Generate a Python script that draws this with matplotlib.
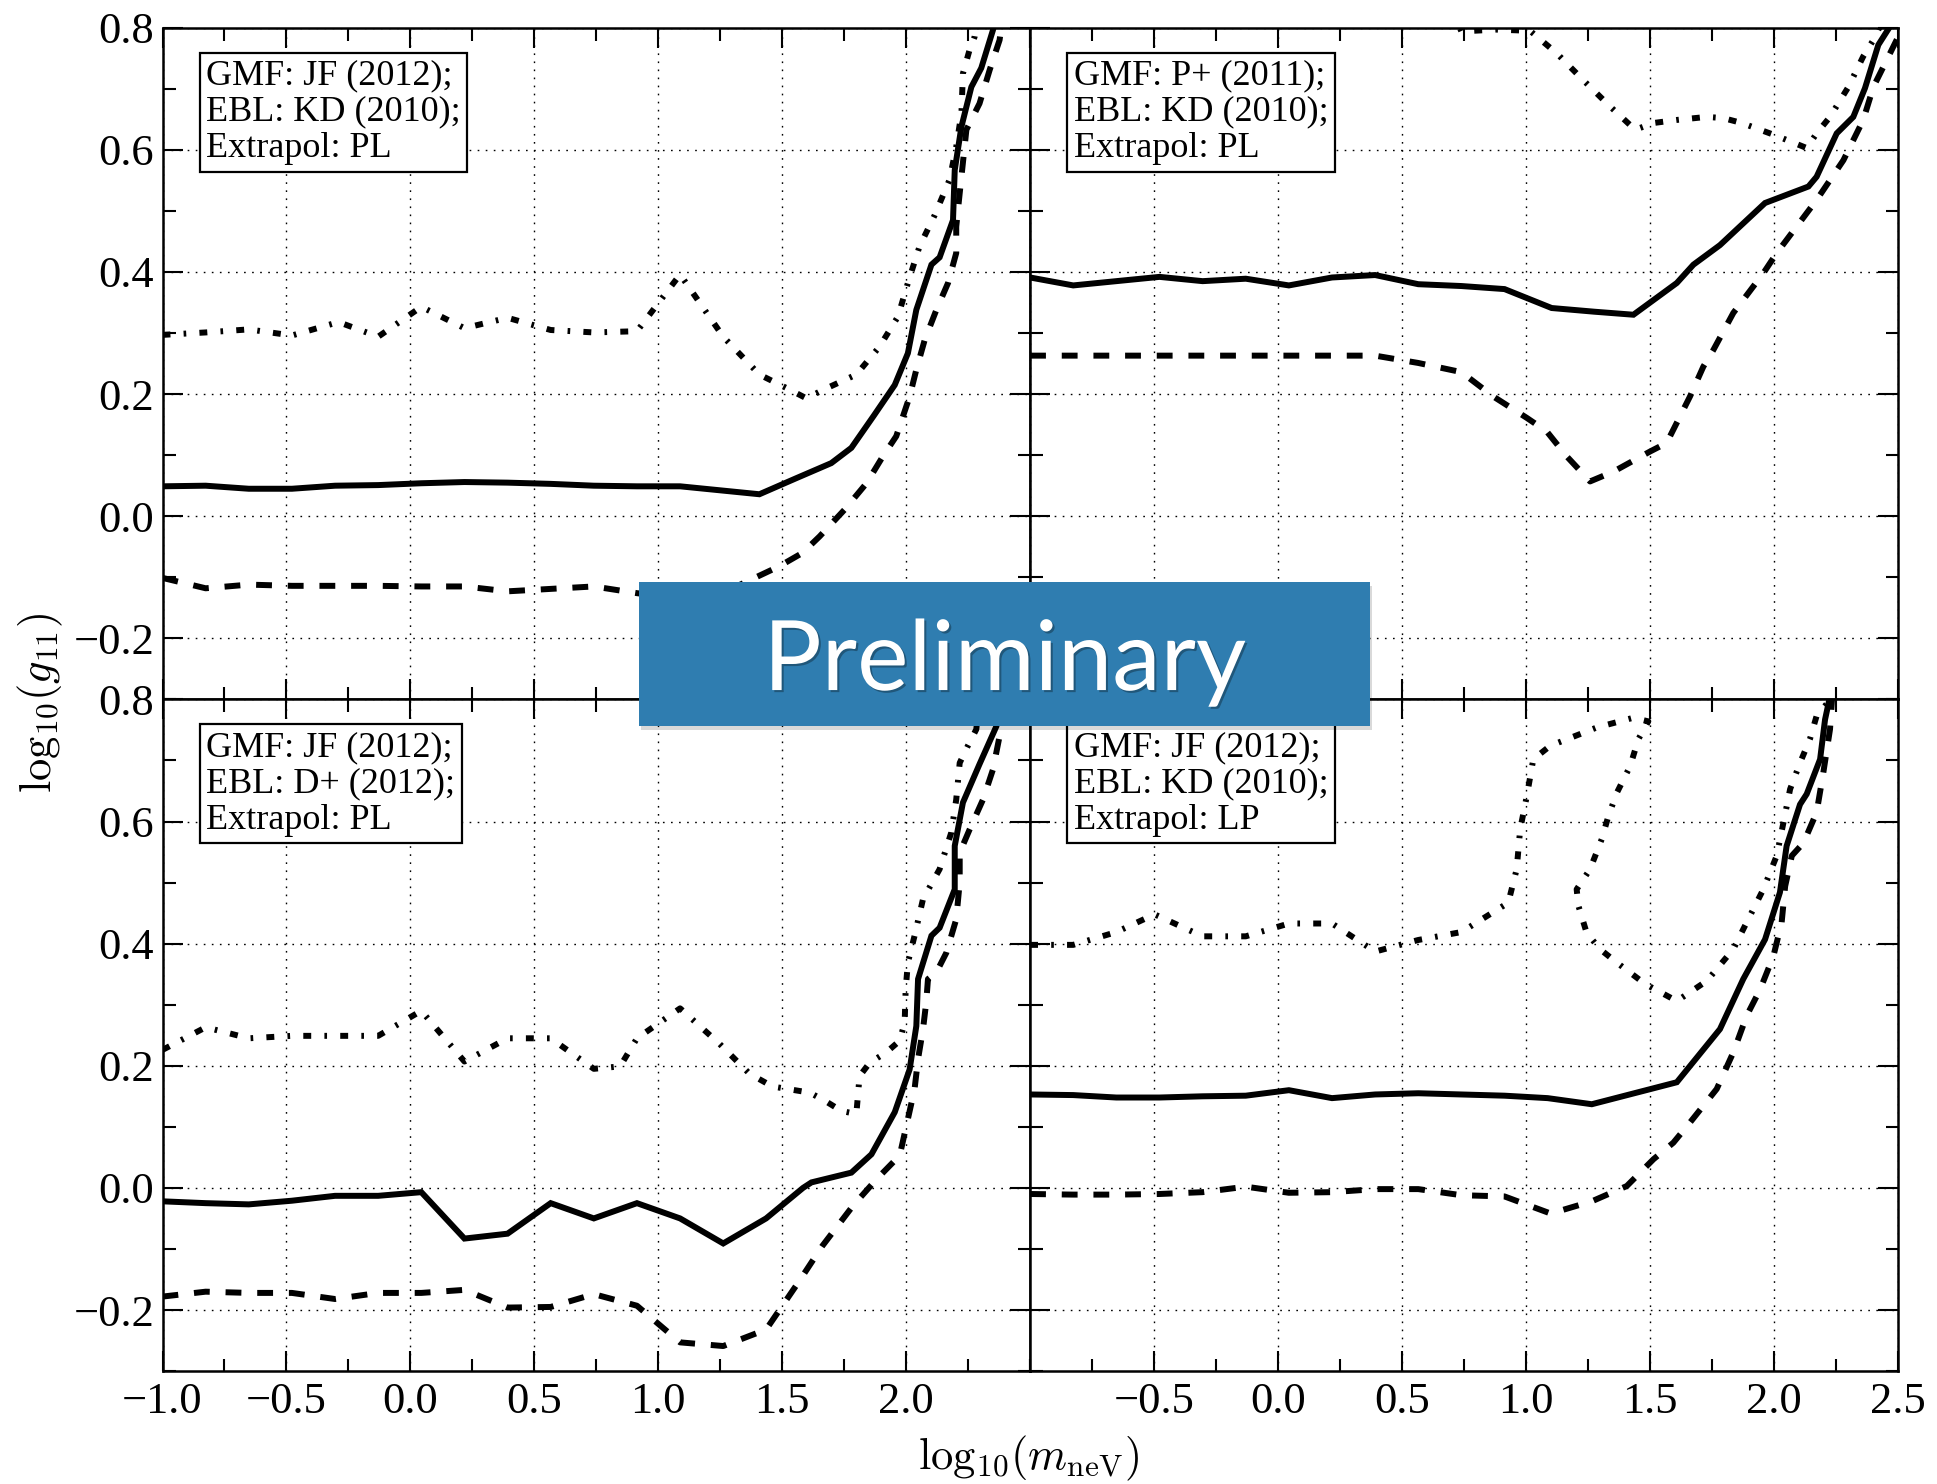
"""
ALP coupling limits: log10(g11) vs log10(m_neV) for four model set-ups
(GMF / EBL / extrapolation), solid, dashed and dash-dotted contours.
"""

import matplotlib
matplotlib.use('Agg')
import matplotlib.pyplot as plt
from matplotlib.patches import Rectangle
from matplotlib.ticker import MultipleLocator
import matplotlib.patheffects as pe

plt.rcParams['font.family'] = 'serif'
plt.rcParams['font.serif'] = ['Liberation Serif', 'DejaVu Serif']
plt.rcParams['mathtext.fontset'] = 'cm'
plt.rcParams['lines.scale_dashes'] = False

# ---------------- data ----------------
# top left: GMF JF (2012), EBL KD (2010), PL
tl_solid_x = [-1.0, -0.826, -0.652, -0.478, -0.304, -0.130, 0.044, 0.218, 0.392, 0.566, 0.740, 0.914, 1.088,
              1.408, 1.555, 1.698, 1.779, 1.870, 1.954, 2.007, 2.041, 2.102, 2.135, 2.189, 2.196, 2.223, 2.263,
              2.303, 2.350, 2.370]
tl_solid_y = [0.049, 0.050, 0.045, 0.045, 0.050, 0.051, 0.054, 0.056, 0.055, 0.053, 0.050, 0.049, 0.049,
              0.036, 0.062, 0.087, 0.112, 0.165, 0.215, 0.267, 0.338, 0.412, 0.424, 0.485, 0.567, 0.638, 0.703,
              0.734, 0.796, 0.830]
tl_dash_x = [-1.0, -0.826, -0.652, -0.478, -0.304, -0.130, 0.044, 0.218, 0.392, 0.566, 0.740, 0.914, 1.088,
             1.262, 1.368, 1.488, 1.582, 1.651, 1.752, 1.840, 1.906, 1.960, 2.014, 2.041, 2.075, 2.122, 2.169,
             2.202, 2.202, 2.216, 2.243, 2.296, 2.337, 2.377, 2.390]
tl_dash_y = [-0.101, -0.118, -0.112, -0.114, -0.114, -0.114, -0.115, -0.115, -0.123, -0.119, -0.115, -0.126,
             -0.135, -0.125, -0.105, -0.082, -0.060, -0.033, 0.011, 0.054, 0.098, 0.131, 0.196, 0.240, 0.289,
             0.338, 0.382, 0.431, 0.474, 0.529, 0.633, 0.676, 0.731, 0.780, 0.820]
tl_dd_x = [-1.0, -0.826, -0.652, -0.478, -0.290, -0.130, 0.044, 0.218, 0.392, 0.566, 0.740, 0.914, 1.088,
           1.262, 1.408, 1.517, 1.598, 1.665, 1.799, 1.893, 1.967, 2.007, 2.054, 2.115, 2.175, 2.202, 2.223,
           2.229, 2.256, 2.276, 2.290]
tl_dd_y = [0.297, 0.301, 0.306, 0.296, 0.318, 0.294, 0.343, 0.308, 0.325, 0.305, 0.301, 0.303, 0.396,
           0.294, 0.232, 0.210, 0.193, 0.207, 0.232, 0.278, 0.327, 0.382, 0.442, 0.493, 0.551, 0.605, 0.660,
           0.725, 0.764, 0.785, 0.820]

# top right: GMF P+ (2011), EBL KD (2010), PL
tr_solid_x = [-1.0, -0.826, -0.652, -0.478, -0.304, -0.130, 0.044, 0.218, 0.392, 0.566, 0.740, 0.914, 1.104,
              1.275, 1.434, 1.609, 1.676, 1.783, 1.965, 2.140, 2.173, 2.254, 2.321, 2.368, 2.422, 2.469, 2.500]
tr_solid_y = [0.391, 0.378, 0.385, 0.392, 0.385, 0.389, 0.378, 0.391, 0.395, 0.380, 0.377, 0.372, 0.341,
              0.335, 0.330, 0.382, 0.412, 0.444, 0.513, 0.540, 0.556, 0.627, 0.654, 0.701, 0.772, 0.802, 0.840]
tr_dash_x = [-1.0, -0.826, -0.652, -0.478, -0.304, -0.130, 0.044, 0.218, 0.392, 0.566, 0.740, 0.869, 1.004,
             1.084, 1.165, 1.259, 1.353, 1.501, 1.568, 1.662, 1.716, 1.756, 1.837, 1.958, 2.012, 2.173, 2.281,
             2.361, 2.402, 2.469, 2.520]
tr_dash_y = [0.263, 0.263, 0.263, 0.263, 0.263, 0.263, 0.263, 0.263, 0.263, 0.251, 0.236, 0.196, 0.161,
             0.139, 0.098, 0.057, 0.073, 0.106, 0.120, 0.196, 0.245, 0.272, 0.333, 0.398, 0.431, 0.518, 0.583,
             0.649, 0.703, 0.758, 0.800]
tr_dd_x = [0.700, 0.740, 0.880, 1.017, 1.125, 1.232, 1.340, 1.441, 1.515, 1.609, 1.730, 1.797, 1.871, 2.005,
           2.133, 2.173, 2.227, 2.301, 2.361, 2.402, 2.450]
tr_dd_y = [0.830, 0.794, 0.797, 0.795, 0.758, 0.714, 0.671, 0.633, 0.644, 0.649, 0.654, 0.652, 0.644, 0.624,
           0.603, 0.627, 0.654, 0.703, 0.753, 0.780, 0.820]

# bottom left: GMF JF (2012), EBL D+ (2012), PL
bl_solid_x = [-1.0, -0.826, -0.652, -0.478, -0.304, -0.130, 0.044, 0.218, 0.392, 0.566, 0.740, 0.914, 1.088,
              1.262, 1.435, 1.584, 1.618, 1.779, 1.860, 1.954, 2.014, 2.041, 2.048, 2.102, 2.135, 2.196, 2.196,
              2.229, 2.296, 2.364, 2.400]
bl_solid_y = [-0.022, -0.025, -0.027, -0.021, -0.013, -0.013, -0.007, -0.083, -0.075, -0.025, -0.050, -0.025,
              -0.050, -0.091, -0.050, 0.000, 0.009, 0.025, 0.055, 0.124, 0.194, 0.265, 0.342, 0.413, 0.426,
              0.489, 0.560, 0.631, 0.694, 0.756, 0.820]
bl_dash_x = [-1.0, -0.826, -0.652, -0.478, -0.304, -0.130, 0.044, 0.218, 0.392, 0.566, 0.740, 0.914, 1.088,
             1.262, 1.435, 1.568, 1.662, 1.786, 1.880, 1.974, 2.001, 2.034, 2.048, 2.068, 2.081, 2.088, 2.122,
             2.162, 2.202, 2.216, 2.216, 2.256, 2.310, 2.350, 2.377, 2.390]
bl_dash_y = [-0.178, -0.170, -0.172, -0.172, -0.182, -0.172, -0.172, -0.167, -0.196, -0.195, -0.174, -0.193,
             -0.253, -0.259, -0.232, -0.153, -0.095, -0.029, 0.014, 0.053, 0.102, 0.162, 0.211, 0.260, 0.304,
             0.342, 0.353, 0.385, 0.440, 0.500, 0.549, 0.587, 0.636, 0.685, 0.740, 0.820]
bl_dd_x = [-1.0, -0.826, -0.652, -0.478, -0.304, -0.130, 0.044, 0.218, 0.392, 0.566, 0.740, 0.846, 0.914,
           1.088, 1.247, 1.368, 1.461, 1.611, 1.671, 1.739, 1.799, 1.806, 1.812, 1.853, 1.920, 1.974, 1.994,
           1.998, 2.007, 2.034, 2.068, 2.135, 2.182, 2.202, 2.216, 2.249, 2.283, 2.300]
bl_dd_y = [0.226, 0.263, 0.245, 0.249, 0.249, 0.249, 0.290, 0.207, 0.245, 0.245, 0.195, 0.199, 0.245,
           0.294, 0.236, 0.187, 0.166, 0.156, 0.143, 0.126, 0.121, 0.154, 0.183, 0.205, 0.222, 0.241, 0.271,
           0.325, 0.369, 0.413, 0.473, 0.522, 0.582, 0.636, 0.696, 0.724, 0.751, 0.820]

# bottom right: GMF JF (2012), EBL KD (2010), LP
br_solid_x = [-1.0, -0.826, -0.652, -0.478, -0.304, -0.130, 0.044, 0.218, 0.392, 0.566, 0.740, 0.914, 1.088,
              1.266, 1.609, 1.783, 1.877, 1.965, 2.025, 2.052, 2.106, 2.133, 2.187, 2.207, 2.240]
br_solid_y = [0.153, 0.152, 0.148, 0.148, 0.150, 0.151, 0.160, 0.147, 0.153, 0.155, 0.153, 0.151, 0.147,
              0.137, 0.173, 0.260, 0.342, 0.407, 0.484, 0.560, 0.628, 0.645, 0.702, 0.767, 0.830]
br_dash_x = [-1.0, -0.826, -0.652, -0.478, -0.304, -0.130, 0.044, 0.218, 0.392, 0.566, 0.740, 0.914, 1.100,
             1.266, 1.407, 1.515, 1.595, 1.662, 1.770, 1.837, 1.891, 1.945, 1.999, 2.032, 2.046, 2.073, 2.120,
             2.173, 2.200, 2.227, 2.240]
br_dash_y = [-0.010, -0.011, -0.011, -0.010, -0.007, 0.002, -0.008, -0.007, -0.002, -0.002, -0.012, -0.014,
             -0.042, -0.022, 0.003, 0.047, 0.074, 0.107, 0.162, 0.222, 0.282, 0.325, 0.380, 0.435, 0.494,
             0.544, 0.565, 0.615, 0.680, 0.751, 0.830]
br_dd_x = [-1.0, -0.826, -0.652, -0.498, -0.304, -0.130, 0.044, 0.218, 0.392, 0.566, 0.740, 0.929, 0.963,
           0.977, 1.004, 1.030, 1.098, 1.286, 1.434, 1.494, 1.454, 1.421, 1.367, 1.333, 1.306, 1.259, 1.205,
           1.212, 1.245, 1.299, 1.367, 1.481, 1.609, 1.730, 1.837, 1.891, 1.958, 2.012, 2.039, 2.066, 2.106,
           2.146, 2.173, 2.270]
br_dd_y = [0.398, 0.398, 0.419, 0.448, 0.412, 0.412, 0.433, 0.433, 0.387, 0.406, 0.419, 0.467, 0.522,
           0.587, 0.642, 0.702, 0.724, 0.754, 0.770, 0.764, 0.735, 0.691, 0.647, 0.609, 0.571, 0.522, 0.489,
           0.462, 0.418, 0.391, 0.369, 0.334, 0.306, 0.339, 0.391, 0.435, 0.489, 0.544, 0.598, 0.653, 0.696,
           0.735, 0.773, 0.820]

panels = [
    ('GMF: JF (2012);\nEBL: KD (2010);\nExtrapol: PL',
     (tl_solid_x, tl_solid_y), (tl_dash_x, tl_dash_y), (tl_dd_x, tl_dd_y)),
    ('GMF: P+ (2011);\nEBL: KD (2010);\nExtrapol: PL',
     (tr_solid_x, tr_solid_y), (tr_dash_x, tr_dash_y), (tr_dd_x, tr_dd_y)),
    ('GMF: JF (2012);\nEBL: D+ (2012);\nExtrapol: PL',
     (bl_solid_x, bl_solid_y), (bl_dash_x, bl_dash_y), (bl_dd_x, bl_dd_y)),
    ('GMF: JF (2012);\nEBL: KD (2010);\nExtrapol: LP',
     (br_solid_x, br_solid_y), (br_dash_x, br_dash_y), (br_dd_x, br_dd_y)),
]

# ---------------- figure ----------------
LW = 4.3
DASHED = (0, (11.4, 11.4))
DASHDOT = (0, (5.7, 9.5, 1.9, 9.5))

fig, axes = plt.subplots(2, 2, figsize=(19.37, 14.84), dpi=100)
fig.subplots_adjust(left=0.0839, right=0.9797, top=0.9813, bottom=0.0761, hspace=0, wspace=0)

for i, (ax, (label, solid, dashed, dashdot)) in enumerate(zip(axes.flat, panels)):
    ax.plot(*solid, color='black', lw=LW, ls='-', solid_joinstyle='miter')
    ax.plot(*dashed, color='black', lw=LW, ls=DASHED, dash_capstyle='butt')
    ax.plot(*dashdot, color='black', lw=LW, ls=DASHDOT, dash_capstyle='butt')

    ax.set_xlim(-1.0, 2.5)
    ax.set_ylim(-0.3, 0.8)
    ax.xaxis.set_major_locator(MultipleLocator(0.5))
    ax.xaxis.set_minor_locator(MultipleLocator(0.25))
    ax.yaxis.set_major_locator(MultipleLocator(0.2))
    ax.yaxis.set_minor_locator(MultipleLocator(0.1))
    ax.grid(True, which='major', color='black', ls=(0, (1.2, 4.6)), lw=1.0)
    ax.tick_params(which='both', direction='in', top=True, right=True, width=1.5,
                   labelsize=32, labelfontfamily='serif')
    ax.tick_params(which='major', length=14.5)
    ax.tick_params(which='minor', length=9)
    ax.tick_params(axis='x', pad=8)
    ax.tick_params(axis='y', pad=6)
    for sp in ax.spines.values():
        sp.set_linewidth(1.8)

    row, col = divmod(i, 2)
    if row == 0:
        ax.tick_params(labelbottom=False)
    else:
        ticks = [-1.0, -0.5, 0.0, 0.5, 1.0, 1.5, 2.0] if col == 0 else [-0.5, 0.0, 0.5, 1.0, 1.5, 2.0, 2.5]
        ax.set_xticks(ticks)
        ax.set_xticklabels([f'{t:.1f}'.replace('-', '\u2212') for t in ticks])
    if col == 1:
        ax.tick_params(labelleft=False)
    else:
        yt = [-0.2, 0.0, 0.2, 0.4, 0.6, 0.8]
        ax.set_yticks(yt)
        ax.set_yticklabels([f'{t:.1f}'.replace('-', '\u2212') for t in yt])

    ax.text(0.0505, 0.953, label, transform=ax.transAxes, ha='left', va='top',
            fontsize=26, linespacing=1.14, zorder=5,
            bbox=dict(boxstyle='square,pad=0.18', fc='white', ec='black', lw=1.6))

fig.text(0.0207, 0.526, r'$\mathrm{log}_{10}(g_{11})$', rotation=90, ha='center', va='center', fontsize=32)
fig.text(0.531, 0.0175, r'$\mathrm{log}_{10}(m_{\rm neV})$', ha='center', va='center', fontsize=32)

# "Preliminary" banner on top of everything
bx, by, bw, bh = 0.3299, 0.5110, 0.3774, 0.0970
shadow = Rectangle((bx + 0.001, by - 0.003), bw, bh, transform=fig.transFigure,
                   fc='#000000', alpha=0.15, ec='none', zorder=9)
fig.add_artist(shadow)
banner = Rectangle((bx, by), bw, bh, transform=fig.transFigure,
                   fc='#2F7DB0', ec='none', zorder=10)
fig.add_artist(banner)
fig.text(0.5188, 0.535, 'Preliminary', ha='center', va='baseline', fontsize=70,
         family=['Lato', 'DejaVu Sans'], color='white', zorder=11,
         path_effects=[pe.withSimplePatchShadow(offset=(1.5, -1.5), shadow_rgbFace='black', alpha=0.3)])

fig.savefig('out.png', dpi=100)
